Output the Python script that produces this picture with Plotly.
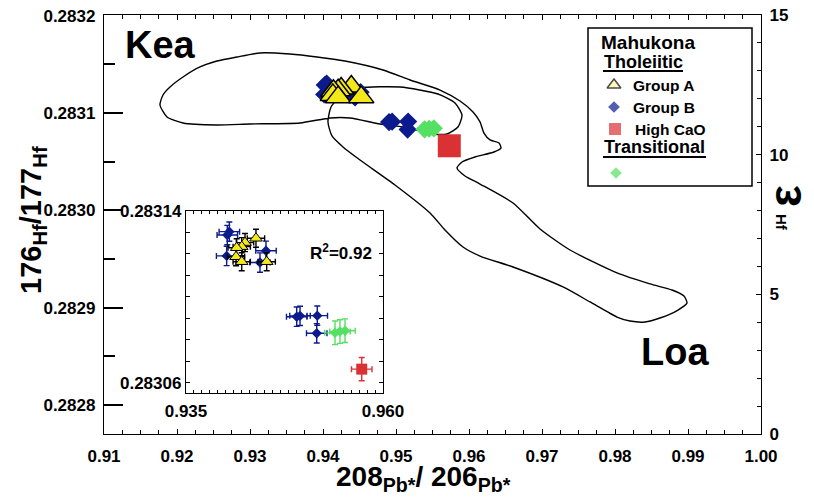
import plotly.graph_objects as go

# ---------------- data ----------------
# Mahukona samples: 208Pb*/206Pb* (x) and 176Hf/177Hf (y)
groupA_x = [0.94388, 0.94249, 0.94207, 0.94143, 0.94135, 0.94207, 0.94524]
groupA_y = [0.2831273, 0.2831253, 0.2831234, 0.2831229, 0.2831187, 0.2831164, 0.2831164]
groupB_x = [0.94050, 0.94024, 0.94016, 0.94515, 0.94439, 0.94905, 0.94947, 0.95166, 0.95159]
groupB_y = [0.2831304, 0.2831288, 0.2831191, 0.2831215, 0.2831160, 0.2830908, 0.2830912, 0.2830913, 0.2830831]
highcao_x = [0.95730]
highcao_y = [0.2830664]
trans_x = [0.95391, 0.95454, 0.95518]
trans_y = [0.2830833, 0.2830839, 0.2830843]

# 2-sigma uncertainties (inset error bars)
groupA_ex, groupA_ey = 0.0011, 0.0000042
groupB_ex, groupB_ey = 0.0013, 0.0000045
highcao_ex, highcao_ey = 0.0013, 0.0000054
trans_ex, trans_ey = 0.0013, 0.0000055

# Kea / Loa field outline
field_x = [0.91767, 0.91808, 0.91904, 0.92082, 0.92315, 0.92548, 0.92822, 0.93137, 0.93548, 0.93918,
           0.94301, 0.94822, 0.95192, 0.95603, 0.95877, 0.96055, 0.96151, 0.96205, 0.96288, 0.96411,
           0.96438, 0.96342, 0.96082, 0.95904, 0.95836, 0.95945, 0.96151, 0.96603, 0.96973, 0.97384,
           0.98027, 0.98479, 0.98781, 0.98945, 0.98986, 0.98863, 0.98616, 0.98411, 0.98205, 0.98027,
           0.97658, 0.97288, 0.96603, 0.96151, 0.95918, 0.95671, 0.95466, 0.94986, 0.94507, 0.94274,
           0.94123, 0.94068, 0.94110, 0.94260, 0.94507, 0.95055, 0.95575, 0.95808, 0.95904, 0.95849,
           0.95699, 0.95466, 0.95192, 0.94781, 0.94370, 0.94096, 0.93685, 0.93000, 0.92548, 0.92082,
           0.91863, 0.91767]
field_y = [0.2831083, 0.2831186, 0.2831268, 0.2831371, 0.2831474, 0.2831535, 0.2831577, 0.2831618, 0.2831607, 0.2831577,
           0.2831535, 0.2831443, 0.2831340, 0.2831237, 0.2831124, 0.2831011, 0.2830909, 0.2830795, 0.2830724, 0.2830693,
           0.2830641, 0.2830600, 0.2830549, 0.2830497, 0.2830436, 0.2830354, 0.2830271, 0.2830076, 0.2829809, 0.2829593,
           0.2829357, 0.2829244, 0.2829182, 0.2829120, 0.2829048, 0.2828976, 0.2828894, 0.2828853, 0.2828863, 0.2828904,
           0.2829059, 0.2829213, 0.2829418, 0.2829531, 0.2829624, 0.2829799, 0.2829973, 0.2830261, 0.2830518, 0.2830652,
           0.2830765, 0.2830909, 0.2831063, 0.2831186, 0.2831258, 0.2831268, 0.2831196, 0.2831104, 0.2830980, 0.2830857,
           0.2830785, 0.2830785, 0.2830847, 0.2830888, 0.2830950, 0.2830950, 0.2830898, 0.2830888, 0.2830878, 0.2830898,
           0.2830960, 0.2831083]

# ticks
x_ticks = [0.91, 0.92, 0.93, 0.94, 0.95, 0.96, 0.97, 0.98, 0.99, 1.00]
x_ticklabels = ["0.91", "0.92", "0.93", "0.94", "0.95", "0.96", "0.97", "0.98", "0.99", "1.00"]
y_ticks = [0.2828, 0.2829, 0.2830, 0.2831, 0.2832]
y_ticklabels = ["0.2828", "0.2829", "0.2830", "0.2831", "0.2832"]
eps_ticks = [0, 5, 10, 15]
eps_ticklabels = ["0", "5", "10", "15"]
inset_x_ticks = [0.935, 0.960]
inset_x_ticklabels = ["0.935", "0.960"]
inset_y_ticks = [0.28306, 0.28314]
inset_y_ticklabels = ["0.28306", "0.28314"]

# ---------------- styling ----------------
YELLOW = "#F4E81A"
YELLOW_LEG = "#FFF5A0"
BLUE = "#0B1A8C"
GREEN = "#55E064"
RED = "#DA3134"
FONT = "Liberation Sans"

L, R, T, B = 104, 53, 15, 63
W, H = 814, 497
PW, PH = W - L - R, H - T - B


def PX(x):
    return (x - L) / PW


def PY(y):
    return (H - B - y) / PH


def bold(labels):
    return ["<b>%s</b>" % s for s in labels]


fig = go.Figure()

# field outline
fig.add_trace(go.Scatter(x=field_x, y=field_y, mode="lines",
                         line=dict(color="black", width=1.4, shape="spline", smoothing=0.6),
                         hoverinfo="skip", showlegend=False))

# main plot markers
fig.add_trace(go.Scatter(x=groupB_x, y=groupB_y, mode="markers",
                         marker=dict(symbol="diamond", size=14, color=BLUE, line=dict(width=0)),
                         showlegend=False))
fig.add_trace(go.Scatter(x=groupA_x, y=groupA_y, mode="markers",
                         marker=dict(symbol="triangle-up", size=22, color=YELLOW,
                                     line=dict(color="black", width=1.5)),
                         showlegend=False))
fig.add_trace(go.Scatter(x=trans_x, y=trans_y, mode="markers",
                         marker=dict(symbol="diamond", size=14, color=GREEN, line=dict(width=0)),
                         showlegend=False))
fig.add_trace(go.Scatter(x=highcao_x, y=highcao_y, mode="markers",
                         marker=dict(symbol="square", size=23, color=RED, line=dict(width=0)),
                         showlegend=False))

# dummy on right axis so it is drawn
fig.add_trace(go.Scatter(x=[None], y=[None], xaxis="x", yaxis="y2", showlegend=False, hoverinfo="skip"))


def eb(v, c):
    return dict(type="constant", value=v, color=c, thickness=1.4, width=3)


# inset markers with error bars
fig.add_trace(go.Scatter(x=groupB_x, y=groupB_y, xaxis="x2", yaxis="y3", mode="markers",
                         error_x=eb(groupB_ex, BLUE), error_y=eb(groupB_ey, BLUE),
                         marker=dict(symbol="diamond", size=8, color=BLUE), showlegend=False))
fig.add_trace(go.Scatter(x=groupA_x, y=groupA_y, xaxis="x2", yaxis="y3", mode="markers",
                         error_x=eb(groupA_ex, "black"), error_y=eb(groupA_ey, "black"),
                         marker=dict(symbol="triangle-up", size=11, color=YELLOW,
                                     line=dict(color="black", width=1)), showlegend=False))
fig.add_trace(go.Scatter(x=trans_x, y=trans_y, xaxis="x2", yaxis="y3", mode="markers",
                         error_x=eb(trans_ex, GREEN), error_y=eb(trans_ey, GREEN),
                         marker=dict(symbol="diamond", size=8, color=GREEN), showlegend=False))
fig.add_trace(go.Scatter(x=highcao_x, y=highcao_y, xaxis="x2", yaxis="y3", mode="markers",
                         error_x=eb(highcao_ex, RED), error_y=eb(highcao_ey, RED),
                         marker=dict(symbol="square", size=11, color=RED), showlegend=False))

# legend keys (pixel-space overlay)
legend_keys = dict(x=[614, 614, 615, 616], y=[85, 107, 129, 173],
                   symbol=["triangle-up", "diamond", "square", "diamond"],
                   size=[12, 9, 12, 9], color=[YELLOW_LEG, BLUE, RED, GREEN],
                   lcolor=["black", BLUE, RED, GREEN], lwidth=[1.5, 0, 0, 0])
fig.add_trace(go.Scatter(x=legend_keys["x"], y=legend_keys["y"], xaxis="x3", yaxis="y4", mode="markers",
                         marker=dict(symbol=legend_keys["symbol"], size=legend_keys["size"],
                                     color=legend_keys["color"],
                                     line=dict(color=legend_keys["lcolor"], width=legend_keys["lwidth"])),
                         showlegend=False, hoverinfo="skip"))

tickfont = dict(family=FONT, size=17, color="black")
common = dict(showgrid=False, zeroline=False, automargin=False, tickcolor="black",
              showline=True, linecolor="black", linewidth=1.3, tickfont=tickfont)

fig.update_layout(
    template="none",
    width=W, height=H, margin=dict(l=L, r=R, t=T, b=B, autoexpand=False),
    paper_bgcolor="white", plot_bgcolor="white", showlegend=False,
    xaxis=dict(domain=[0, 1], range=[0.91, 1.0], tickmode="array", tickvals=x_ticks,
               ticktext=bold(x_ticklabels), ticks="inside", ticklen=5, tickwidth=1.2,
               mirror="ticks", ticklabelstandoff=6,
               minor=dict(tick0=0.91, dtick=0.0025, ticks="inside", ticklen=4, tickcolor="black",
                          tickwidth=1.2, showgrid=False), **common),
    yaxis=dict(domain=[0, 1], range=[0.2827702, 0.2832008], tickmode="array", tickvals=y_ticks,
               ticktext=bold(y_ticklabels), ticks="inside", ticklen=19, tickwidth=2.4,
               mirror=False, ticklabelstandoff=4,
               minor=dict(tick0=0.2828, dtick=0.00005, ticks="inside", ticklen=11, tickcolor="black",
                          tickwidth=2.4, showgrid=False), **common),
    yaxis2=dict(overlaying="y", side="right", anchor="x", range=[0, 15], tickmode="array",
                tickvals=eps_ticks, ticktext=bold(eps_ticklabels), ticks="inside", ticklen=5, tickwidth=1.2,
                ticklabelstandoff=4,
                minor=dict(tick0=0, dtick=1, ticks="inside", ticklen=4, tickcolor="black", tickwidth=1.2,
                           showgrid=False), **common),
    xaxis2=dict(domain=[PX(186), PX(383)], anchor="y3", range=[0.935, 0.960], tickmode="array",
                tickvals=inset_x_ticks, ticktext=bold(inset_x_ticklabels), ticks="inside", ticklen=4,
                tickwidth=1.2, mirror="ticks", ticklabelstandoff=2,
                minor=dict(tick0=0.935, dtick=0.001, ticks="inside", ticklen=3, tickcolor="black",
                           tickwidth=1.1, showgrid=False), **common),
    yaxis3=dict(domain=[PY(393), PY(211)], anchor="x2", range=[0.2830553, 0.28314], tickmode="array",
                tickvals=inset_y_ticks, ticktext=bold(inset_y_ticklabels), ticks="inside", ticklen=4,
                tickwidth=1.2, mirror="ticks", ticklabelstandoff=0,
                minor=dict(tick0=0.28306, dtick=0.00001, ticks="inside", ticklen=4, tickcolor="black",
                           tickwidth=1.1, showgrid=False), **common),
    xaxis3=dict(overlaying="x", anchor="y4", range=[L, W - R], visible=False, fixedrange=True, automargin=False),
    yaxis4=dict(overlaying="y", anchor="x3", range=[H - B, T], visible=False, fixedrange=True, automargin=False),
)

ann = []


def text(s, x, y, size, xanchor="center", yanchor="middle", angle=0, family=FONT):
    ann.append(dict(text="<b>%s</b>" % s, x=PX(x), y=PY(y), xref="paper", yref="paper", showarrow=False,
                    xanchor=xanchor, yanchor=yanchor, textangle=angle,
                    font=dict(family=family, size=size, color="black")))


text("Kea", 160, 45, 38)
text("Loa", 675, 352, 38)
text("R<sup>2</sup>=0.92", 341, 252, 17)

# axis titles
text("208<sub>Pb*</sub>/ 206<sub>Pb*</sub>", 423, 478, 28)
text("176<sub>Hf</sub>/177<sub>Hf</sub>", 33, 220, 29, angle=-90)
text("ε", 785, 196, 46, angle=-90)
text("Hf", 782, 222, 15, angle=90)

# legend texts
text("Mahukona", 599, 42, 19, xanchor="left")
text("Tholeiitic", 602, 62, 18, xanchor="left")
text("Group A", 631, 85, 15.5, xanchor="left")
text("Group B", 631, 107, 15.5, xanchor="left")
text("High CaO", 633, 129, 15.5, xanchor="left")
text("Transitional", 602, 147, 18, xanchor="left")

fig.update_layout(annotations=ann)

shapes = [
    dict(type="rect", xref="paper", yref="paper", x0=PX(588), x1=PX(752), y0=PY(186), y1=PY(28),
         line=dict(color="black", width=1.5), fillcolor="rgba(0,0,0,0)"),
    dict(type="line", xref="paper", yref="paper", x0=PX(603), x1=PX(683), y0=PY(71), y1=PY(71),
         line=dict(color="black", width=2)),
    dict(type="line", xref="paper", yref="paper", x0=PX(603), x1=PX(706), y0=PY(157), y1=PY(157),
         line=dict(color="black", width=2)),
]
fig.update_layout(shapes=shapes)

fig.write_html("out.html", config={"displayModeBar": False},
               post_script="document.body.style.margin='0px';document.body.style.padding='0px';"
                           "document.documentElement.style.overflow='hidden';")
